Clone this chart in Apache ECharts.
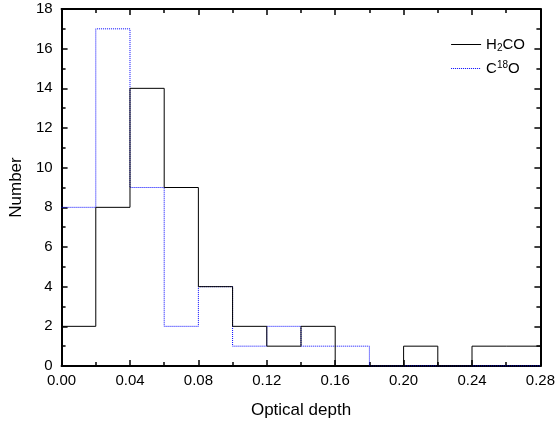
<!DOCTYPE html>
<html>
<head>
<meta charset="utf-8">
<script src="https://cdn.jsdelivr.net/npm/echarts@6/dist/echarts.min.js"></script>
<style>
  html, body { margin: 0; padding: 0; background: #fff; }
  #main { width: 558px; height: 424px; }
</style>
</head>
<body>
<div id="main"></div>
<script>
// bin edges (left side) and counts, width 0.02
var binEdges = [0.00, 0.02, 0.04, 0.06, 0.08, 0.10, 0.12, 0.14, 0.16, 0.18, 0.20, 0.22, 0.24, 0.26, 0.28];
var h2coCounts = [2, 8, 14, 9, 4, 2, 1, 2, 0, 0, 1, 0, 1, 1];
var c18oCounts = [8, 17, 9, 2, 4, 1, 2, 1, 1, 0, 0, 0, 0, 0];

function stepPoints(counts) {
  var pts = [];
  for (var i = 0; i < counts.length; i++) {
    pts.push([binEdges[i], counts[i]]);
  }
  // close last bin at the right edge
  pts.push([binEdges[counts.length], counts[counts.length - 1]]);
  return pts;
}

var myChart = echarts.init(document.getElementById('main'));
var font = 'Liberation Sans, Arial, sans-serif';

var axisCommon = {
  axisLine: { show: true, onZero: false, lineStyle: { color: '#000', width: 2 } },
  axisTick: { show: true, inside: true, length: 6, lineStyle: { color: '#000', width: 1.5 } },
  minorTick: { show: true, splitNumber: 2, length: 4, lineStyle: { color: '#000', width: 1.5 } },
  splitLine: { show: false }
};

var option = {
  animation: false,
  backgroundColor: '#fff',
  grid: { left: 61, right: 13, top: 9, bottom: 57 },
  legend: {
    orient: 'vertical',
    right: 28,
    top: 32,
    itemWidth: 30,
    itemHeight: 8,
    itemGap: 7,
    itemStyle: { opacity: 0 },
    lineStyle: { width: 1 },
    data: ['H2CO', 'C18O'],
    textStyle: {
      fontFamily: font, fontSize: 15, color: '#000',
      rich: {
        sub: { fontSize: 10, verticalAlign: 'bottom', padding: [7, 0, 0, 0], fontFamily: font, color: '#000' },
        sup: { fontSize: 10, verticalAlign: 'top', padding: [0, 0, 7, 0], fontFamily: font, color: '#000' }
      }
    },
    formatter: function(name) {
      if (name === 'H2CO') return 'H{sub|2}CO';
      return 'C{sup|18}O';
    }
  },
  xAxis: [
    echarts.util.merge({
      type: 'value',
      min: 0, max: 0.28, interval: 0.04,
      name: 'Optical depth',
      nameLocation: 'middle',
      nameGap: 36,
      nameTextStyle: { fontFamily: font, fontSize: 17, color: '#000' },
      axisLabel: {
        fontFamily: font, fontSize: 15, color: '#000', margin: 7,
        formatter: function(v) { return v.toFixed(2); }
      }
    }, axisCommon, true),
    echarts.util.merge({
      type: 'value', position: 'top',
      min: 0, max: 0.28, interval: 0.04,
      axisLabel: { show: false }
    }, axisCommon, true)
  ],
  yAxis: [
    echarts.util.merge({
      type: 'value',
      min: 0, max: 18, interval: 2,
      name: 'Number',
      nameLocation: 'middle',
      nameGap: 28,
      nameTextStyle: { fontFamily: font, fontSize: 17, color: '#000' },
      axisLabel: { fontFamily: font, fontSize: 15, color: '#000', margin: 9 }
    }, axisCommon, true),
    echarts.util.merge({
      type: 'value', position: 'right',
      min: 0, max: 18, interval: 2,
      axisLabel: { show: false }
    }, axisCommon, true)
  ],
  series: [
    {
      name: 'H2CO',
      type: 'line',
      step: 'end',
      symbol: 'none',
      data: stepPoints(h2coCounts),
      lineStyle: { color: '#000', width: 1, type: 'solid' },
      itemStyle: { color: '#000' },
      z: 3
    },
    {
      name: 'C18O',
      type: 'line',
      step: 'end',
      symbol: 'none',
      data: stepPoints(c18oCounts),
      lineStyle: { color: '#0000ff', width: 1, type: 'dotted' },
      itemStyle: { color: '#0000ff' },
      z: 2
    }
  ]
};
myChart.setOption(option);
</script>
</body>
</html>
